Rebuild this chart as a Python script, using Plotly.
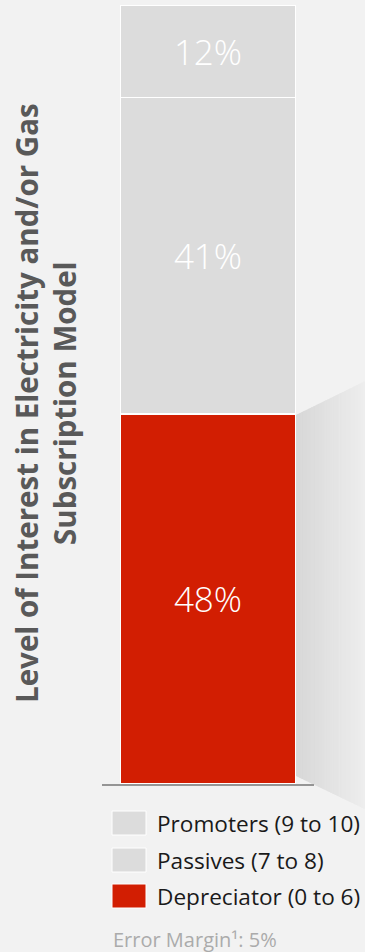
import plotly.graph_objects as go

# ---- data ----
category = ["Level of Interest"]
series_names = ["Depreciator (0 to 6)", "Passives (7 to 8)", "Promoters (9 to 10)"]
series_values = [48, 41, 12]
series_labels = ["48%", "41%", "12%"]
legend_order = ["Promoters (9 to 10)", "Passives (7 to 8)", "Depreciator (0 to 6)"]
axis_title = "Level of Interest in Electricity and/or Gas<br>Subscription Model"
footnote = "Error Margin¹: 5%"

# ---- styles ----
colors = {"Depreciator (0 to 6)": "#d21e02",
          "Passives (7 to 8)": "#dcdcdc",
          "Promoters (9 to 10)": "#dcdcdc"}
W, H = 365, 952
ML, MR, MT, MB = 102, 51, 5, 168
PW, PH = W - ML - MR, H - MT - MB


def px(x):
    return (x - ML) / PW


def py(y):
    return (H - MB - y) / PH


fig = go.Figure()
for name, val, lab in zip(series_names, series_values, series_labels):
    fig.add_trace(go.Bar(
        x=category, y=[val], name=name,
        marker=dict(color=colors[name], line=dict(color="#ffffff", width=1.5)),
        text=[lab], textposition="inside", insidetextanchor="middle",
        textangle=0,
        textfont=dict(family="Open Sans", size=35, color="#ffffff", weight=300),
        showlegend=False, hoverinfo="skip",
    ))

shapes = []
# decorative gradient wedge to the right of the bar
N = 40
x0, x1 = 296, 365
for i in range(N):
    a = x0 + (x1 - x0) * i / N
    b = x0 + (x1 - x0) * (i + 1) / N + 0.6
    ta = 415 - (a - x0) * 0.49
    tb = 415 - (b - x0) * 0.49
    ba = 776 + (a - x0) * 0.48
    bb = 776 + (b - x0) * 0.48
    t = i / (N - 1)
    c = int(216 + (238 - 216) * t)
    shapes.append(dict(
        type="path", xref="paper", yref="paper", layer="below",
        path=f"M {px(a)} {py(ta)} L {px(b)} {py(tb)} L {px(b)} {py(bb)} L {px(a)} {py(ba)} Z",
        fillcolor=f"rgb({c},{c},{c})", line=dict(width=0)))

# manual legend
annotations = []
row_y = [823, 860, 896]
for name, yy in zip(legend_order, row_y):
    shapes.append(dict(type="rect", xref="paper", yref="paper",
                       x0=px(112), x1=px(146), y0=py(yy - 12), y1=py(yy + 12),
                       fillcolor=colors[name], line=dict(color="#ffffff", width=1)))
    annotations.append(dict(xref="paper", yref="paper", x=px(155), y=py(yy),
                            xanchor="left", yanchor="middle", showarrow=False,
                            text=name, font=dict(family="Open Sans", size=22.6, color="#1a1a1a")))

annotations.append(dict(xref="paper", yref="paper", x=px(111), y=py(939),
                        xanchor="left", yanchor="middle", showarrow=False,
                        text=footnote, font=dict(family="Open Sans", size=20, color="#ababab")))

annotations.append(dict(xref="paper", yref="paper", x=px(45), y=py(403),
                        xanchor="center", yanchor="middle", showarrow=False,
                        textangle=-90, text=axis_title,
                        font=dict(family="Open Sans", size=29.5, color="#595959", weight="bold")))

fig.update_layout(
    width=W, height=H, barmode="stack", bargap=0.175,
    margin=dict(l=ML, r=MR, t=MT, b=MB, autoexpand=False),
    paper_bgcolor="#f2f2f2", plot_bgcolor="rgba(0,0,0,0)",
    xaxis=dict(range=[-0.5, 0.5], showline=True, linecolor="#959595", linewidth=2,
               showticklabels=False, ticks="", showgrid=False, zeroline=False, fixedrange=True),
    yaxis=dict(range=[0, 101], visible=False, showgrid=False, zeroline=False, fixedrange=True),
    shapes=shapes, annotations=annotations,
    uniformtext=dict(mode=False),
)

fig.write_html("out.html", config={"displayModeBar": False},
               post_script="document.body.style.margin='0';document.body.style.background='#f2f2f2';")
